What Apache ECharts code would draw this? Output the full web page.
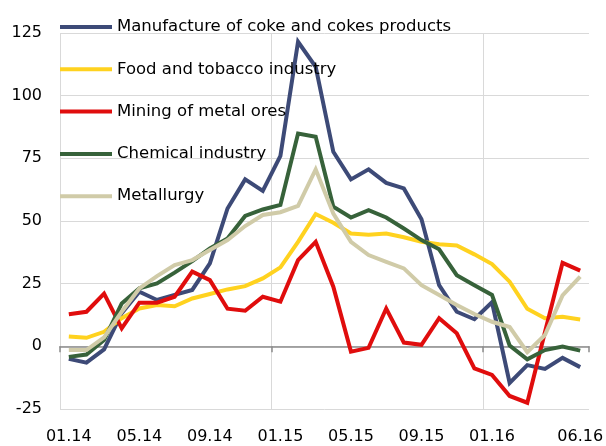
<!DOCTYPE html>
<html>
<head>
<meta charset="utf-8">
<script src="https://cdn.jsdelivr.net/npm/echarts@6/dist/echarts.min.js"></script>
<style>
  html, body { margin: 0; padding: 0; background: #fff; }
  #chart { width: 606px; height: 446px; }
</style>
</head>
<body>
<div id="chart"></div>
<script>
// Monthly, % change, January 2014 – June 2016
const months = [
  '01.14','02.14','03.14','04.14','05.14','06.14','07.14','08.14','09.14','10.14','11.14','12.14',
  '01.15','02.15','03.15','04.15','05.15','06.15','07.15','08.15','09.15','10.15','11.15','12.15',
  '01.16','02.16','03.16','04.16','05.16','06.16'
];

const seriesNames = [
  'Manufacture of coke and cokes products',
  'Food and tobacco industry',
  'Mining of metal ores',
  'Chemical industry',
  'Metallurgy'
];

const coke = [-5, -6.5, -1.2, 13.2, 21.8, 18.5, 20.5, 22.5, 33.1, 55, 66.6, 62,
  76, 121.5, 111.5, 77.6, 66.6, 70.6, 65.2, 63, 50.7, 24.4, 13.8, 10.8,
  17.6, -14.6, -7.5, -9, -4.6, -8.3];
const food = [3.9, 3.4, 5.8, 11.2, 15.1, 16.5, 16, 19.1, 20.9, 22.7, 24, 27.1,
  31.5, 41.7, 52.8, 49.3, 45, 44.5, 45, 43.5, 41.7, 40.7, 40.2, 36.7,
  32.8, 25.8, 15, 11.2, 11.8, 10.7];
const mining = [12.8, 13.8, 21, 7.2, 17.4, 17.4, 19.8, 29.8, 26.4, 15, 14.2, 19.8,
  17.8, 34.4, 41.7, 23.8, -2.1, -0.6, 15.1, 1.5, 0.6, 11.2, 5.2, -8.8,
  -11.4, -19.8, -22.5, 5.6, 33.3, 30.2];
const chemical = [-4.2, -3.3, 2.5, 17.1, 23.1, 25.1, 29.4, 34, 39.1, 43, 52, 54.6,
  56.4, 84.9, 83.6, 55.7, 51.4, 54.3, 51.4, 47, 42.4, 38.7, 28.4, 24.4,
  20.5, 0.3, -5.2, -1.5, -0.1, -1.7];
const metallurgy = [-1.5, -1.5, 3.6, 13.8, 23.1, 28, 32.4, 34.4, 38.4, 42.4, 48, 52.4,
  53.5, 56, 70.6, 53, 41.7, 36.4, 33.7, 31.1, 24.4, 20.5, 16.5, 12.9,
  9.8, 7.7, -2.3, 4.5, 20.3, 27.8];

const yTicks = { min: -25, max: 125, step: 25 };

const colors = ['#3D4A77', '#FFD21F', '#E00D0D', '#37623A', '#D0CBA8'];
const values = [coke, food, mining, chemical, metallurgy];

const FONT = 'DejaVu Sans';
const GRID_LINE = '#D9D9D9';
const AXIS_GREY = '#8C8C8C';

const chart = echarts.init(document.getElementById('chart'), null, { renderer: 'canvas' });

const showLabel = (idx) => (idx % 4 === 0 && idx <= 24) || idx === months.length - 1;
const yearMark = (idx) => idx % 12 === 0;

chart.setOption({
  animation: false,
  backgroundColor: '#ffffff',
  textStyle: { fontFamily: FONT },
  grid: { left: 60, right: 12, top: 33, bottom: 37, containLabel: false },
  legend: {
    data: seriesNames,
    orient: 'vertical',
    left: 60,
    top: 17,
    padding: 0,
    icon: 'rect',
    itemWidth: 52,
    itemHeight: 4,
    itemGap: 22.3,
    textStyle: { fontFamily: FONT, fontSize: 16.5, color: '#000', lineHeight: 20 }
  },
  xAxis: [
    {
      type: 'category',
      data: months,
      position: 'bottom',
      boundaryGap: true,
      axisLine: { show: false, onZero: false },
      axisTick: { show: false },
      axisLabel: {
        interval: showLabel,
        fontFamily: FONT,
        fontSize: 16,
        color: '#000',
        margin: 20
      },
      splitLine: {
        show: true,
        interval: yearMark,
        lineStyle: { color: [GRID_LINE, GRID_LINE, GRID_LINE, 'rgba(0,0,0,0)'], width: 1 }
      }
    },
    {
      type: 'category',
      data: months,
      position: 'top',
      boundaryGap: true,
      axisLine: { show: true, onZero: true, lineStyle: { color: AXIS_GREY, width: 1.5 } },
      axisTick: { show: true, inside: true, interval: yearMark, length: 6, lineStyle: { color: AXIS_GREY, width: 1.5 } },
      axisLabel: { show: false },
      splitLine: { show: false }
    }
  ],
  yAxis: {
    type: 'value',
    min: yTicks.min,
    max: yTicks.max,
    interval: yTicks.step,
    axisLine: { show: false },
    axisTick: { show: false },
    axisLabel: { fontFamily: FONT, fontSize: 16, color: '#000', margin: 18 },
    splitLine: { show: true, lineStyle: { color: GRID_LINE, width: 1 } }
  },
  series: seriesNames.map((name, i) => ({
    name: name,
    type: 'line',
    xAxisIndex: 0,
    data: values[i],
    showSymbol: false,
    symbol: 'none',
    color: colors[i],
    lineStyle: { color: colors[i], width: 4, join: 'miter' },
    z: 2 + i
  }))
});
</script>
</body>
</html>
